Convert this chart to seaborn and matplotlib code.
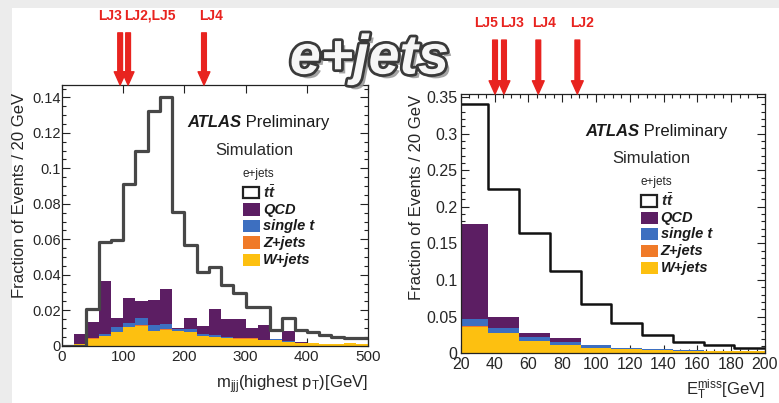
import numpy as np
import pandas as pd
import matplotlib
matplotlib.use("Agg")
import matplotlib.pyplot as plt
import seaborn as sns
from matplotlib.patches import Rectangle
from matplotlib.ticker import MultipleLocator, FuncFormatter
import matplotlib.patheffects as pe

# ---------------- m_jjj (highest pT), 20 GeV bins from 0 to 500 ----------------
mjjj_edges = list(range(0, 501, 20))
mjjj_ttbar = [0.0, 0.0, 0.0205, 0.0587, 0.0596, 0.0911, 0.1100, 0.1325, 0.1403, 0.0753,
              0.0570, 0.0418, 0.0443, 0.0340, 0.0296, 0.0220, 0.0220, 0.0089, 0.0155, 0.0089,
              0.0079, 0.0060, 0.0051, 0.0042, 0.0046]
mjjj_wjets = [0.0, 0.0010, 0.0040, 0.0053, 0.0077, 0.0103, 0.0113, 0.0081, 0.0090, 0.0081,
              0.0078, 0.0053, 0.0048, 0.0044, 0.0040, 0.0040, 0.0030, 0.0030, 0.0020, 0.0015,
              0.0015, 0.0010, 0.0010, 0.0015, 0.0010]
mjjj_zjets = [0.0, 0.0, 0.0002, 0.0002, 0.0002, 0.0004, 0.0004, 0.0002, 0.0002, 0.0002,
              0.0002, 0.0002, 0.0002, 0.0001, 0.0001, 0.0001, 0.0, 0.0, 0.0, 0.0,
              0.0, 0.0, 0.0, 0.0, 0.0]
mjjj_singlet = [0.0, 0.0, 0.0, 0.0011, 0.0025, 0.0023, 0.0038, 0.0034, 0.0031, 0.0009,
                0.0016, 0.0009, 0.0008, 0.0005, 0.0005, 0.0004, 0.0004, 0.0005, 0.0004, 0.0003,
                0.0002, 0.0002, 0.0002, 0.0002, 0.0002]
mjjj_qcd = [0.0, 0.0054, 0.0094, 0.0301, 0.0051, 0.0141, 0.0097, 0.0141, 0.0195, 0.0010,
            0.0059, 0.0049, 0.0147, 0.0099, 0.0103, 0.0057, 0.0083, 0.0, 0.0059, 0.0003,
            0.0, 0.0, 0.0, 0.0, 0.0]

# ---------------- missing ET, 11 bins over 0-200 GeV ----------------
met_edges = [float(v) for v in np.linspace(0, 200, 12)[1:]]
met_ttbar = [0.340, 0.2237, 0.1637, 0.1127, 0.0673, 0.0415, 0.0245, 0.0150, 0.0110, 0.0068]
met_wjets = [0.0355, 0.0273, 0.0168, 0.0113, 0.0068, 0.0055, 0.0045, 0.0035, 0.0030, 0.0028]
met_zjets = [0.0020, 0.0005, 0.0004, 0.0003, 0.0002, 0.0001, 0.0001, 0.0001, 0.0001, 0.0001]
met_singlet = [0.0089, 0.0072, 0.0055, 0.0034, 0.0043, 0.0020, 0.0010, 0.0008, 0.0006, 0.0004]
met_qcd = [0.1300, 0.0141, 0.0054, 0.0054, 0.0, 0.0, 0.0, 0.0, 0.0, 0.0]

# Selection points of the benchmark models (label, x)
mjjj_markers = [("LJ3", 95.0), ("LJ2,LJ5", 108.0), ("LJ4", 232.0)]
met_markers = [("LJ5", 40.3), ("LJ3", 45.6), ("LJ4", 65.9), ("LJ2", 89.0)]

samples = ["QCD", "single t", "Z+jets", "W+jets"]
colors = {"QCD": "#5c1e63", "single t": "#3d6fc0", "Z+jets": "#f07a28", "W+jets": "#fdc010"}
RED = "#e8231f"

sns.set_style("ticks")
plt.rcParams["font.family"] = ["Liberation Sans", "DejaVu Sans"]
plt.rcParams["mathtext.fontset"] = "custom"
plt.rcParams["mathtext.rm"] = "Liberation Sans"
plt.rcParams["mathtext.it"] = "Liberation Sans:italic:bold"

W, H = 779, 403
fig = plt.figure(figsize=(W / 100, H / 100), dpi=100)
fig.patch.set_facecolor("#ececec")
fig.patches.append(Rectangle((12 / W, 0), 1, 1 - 8 / H, transform=fig.transFigure,
                             facecolor="white", edgecolor="none", zorder=-10))


def px_axes(x0, x1, ytop, ybot):
    return fig.add_axes([x0 / W, 1 - ybot / H, (x1 - x0) / W, (ybot - ytop) / H])


def draw_panel(ax, edges, ttbar, comps, tt_color, tt_lw):
    centers = [(a + b) / 2 for a, b in zip(edges[:-1], edges[1:])]
    rows = []
    for name in samples:
        for c, v in zip(centers, comps[name]):
            rows.append({"x": c, "w": v, "sample": name})
    df = pd.DataFrame(rows)
    sns.histplot(data=df, x="x", weights="w", hue="sample", hue_order=samples,
                 bins=edges, multiple="stack", element="step", fill=True,
                 palette=colors, alpha=1, linewidth=0, legend=False, ax=ax)
    tt = pd.DataFrame({"x": centers, "w": ttbar})
    sns.histplot(data=tt, x="x", weights="w", bins=edges, element="step", fill=False,
                 color=tt_color, linewidth=tt_lw, ax=ax)


def decorate(ax, xlabel, ylabel_pos, xlabel_y, xsize, ysize, ypad):
    ax.set_ylabel("Fraction of Events / 20 GeV", loc="top", fontsize=12)
    ax.yaxis.set_label_coords(*ylabel_pos)
    ax.set_xlabel(xlabel, loc="right", fontsize=12)
    ax.xaxis.set_label_coords(1.0, xlabel_y)
    ax.tick_params(which="both", direction="in", top=True, right=True,
                   width=0.8, color="#222222")
    ax.tick_params(which="major", length=6)
    ax.tick_params(which="minor", length=3)
    ax.tick_params(axis="y", pad=ypad, labelsize=ysize)
    ax.tick_params(axis="x", pad=3, labelsize=xsize)
    ax.yaxis.set_major_formatter(FuncFormatter(lambda v, p: "0" if v == 0 else f"{v:g}"))
    for s in ax.spines.values():
        s.set_linewidth(0.9)
        s.set_color("#222222")

    tr = ax.transAxes
    t = ax.text(0.408, 0.855, "ATLAS", transform=tr, fontsize=12, fontweight="bold",
                fontstyle="italic", va="center", ha="left", color="#1a1a1a")
    ax.annotate(" Preliminary", xy=(1, 0), xycoords=t, va="bottom", ha="left",
                fontsize=12, color="#1a1a1a")
    ax.text(0.627, 0.75, "Simulation", transform=tr, fontsize=12, ha="center",
            va="center", color="#2a2a2a")
    ax.text(0.59, 0.66, "e+jets", transform=tr, fontsize=8.5, ha="left", va="center")

    entries = [("$t\\bar{t}$", None)] + [(s, colors[s]) for s in samples]
    ys = [0.588, 0.522, 0.460, 0.395, 0.328]
    for (label, col), y in zip(entries, ys):
        if col is None:
            ax.add_patch(Rectangle((0.591, y - 0.022), 0.053, 0.044, transform=tr,
                                   facecolor="white", edgecolor="#222222", lw=1.6,
                                   clip_on=False))
            ax.text(0.657, y, label, transform=tr, fontsize=11, va="center", ha="left")
        else:
            ax.add_patch(Rectangle((0.591, y - 0.024), 0.056, 0.048, transform=tr,
                                   facecolor=col, edgecolor="none", clip_on=False))
            ax.text(0.657, y, label, transform=tr, fontsize=10.5, fontweight="bold",
                    fontstyle="italic", va="center", ha="left", color="#1a1a1a")


def arrows(ax, markers, layout, tail, label_y):
    for (label, xv), (ha, dx) in zip(markers, layout):
        ax.annotate("", xy=(xv, 1.0), xycoords=("data", "axes fraction"),
                    xytext=(xv, tail), textcoords=("data", "axes fraction"),
                    arrowprops=dict(width=3.4, headwidth=8.5, headlength=9.5,
                                    color=RED, shrink=0), annotation_clip=False)
        ax.annotate(label, xy=(xv, label_y), xycoords=("data", "figure fraction"),
                    xytext=(dx, 0), textcoords="offset points", ha=ha, va="center",
                    color=RED, fontsize=10, fontweight="bold", annotation_clip=False)


# ---- left panel ----
axL = px_axes(62, 368, 85, 345.7)
draw_panel(axL, mjjj_edges, mjjj_ttbar,
           {"QCD": mjjj_qcd, "single t": mjjj_singlet, "Z+jets": mjjj_zjets,
            "W+jets": mjjj_wjets}, "#474747", 2.3)
axL.set_xlim(0, 500)
axL.set_ylim(0, 0.147)
axL.xaxis.set_major_locator(MultipleLocator(100))
axL.yaxis.set_major_locator(MultipleLocator(0.02))
axL.yaxis.set_minor_locator(MultipleLocator(0.005))
decorate(axL, r"m$_{\rm jjj}$(highest p$_{\rm T}$)[GeV]", (-0.115, 0.97), -0.105,
         11, 10.5, 1.0)
arrows(axL, mjjj_markers, [("right", 1.5), ("left", -3), ("left", -3.5)], 1.2, 0.961)

# ---- right panel ----
axR = px_axes(460.7, 765, 94, 353.3)
draw_panel(axR, met_edges, met_ttbar,
           {"QCD": met_qcd, "single t": met_singlet, "Z+jets": met_zjets,
            "W+jets": met_wjets}, "#111111", 1.8)
axR.set_xlim(20, 200)
axR.set_ylim(0, 0.354)
axR.xaxis.set_major_locator(MultipleLocator(20))
axR.xaxis.set_minor_locator(MultipleLocator(5))
axR.yaxis.set_major_locator(MultipleLocator(0.05))
axR.yaxis.set_minor_locator(MultipleLocator(0.01))
decorate(axR, r"E$_{\rm T}^{\rm miss}$[GeV]", (-0.12, 0.995), -0.095, 11.5, 11.5, 2.5)
arrows(axR, met_markers, [("right", 2.5), ("left", -2.5), ("center", 4), ("center", 3)],
       1.208, 0.944)

# ---- channel title ----
fig.text(0.474, 0.852, "e+jets", fontsize=40, fontweight="bold", fontstyle="italic",
         ha="center", va="center", color="#f6f6f6",
         path_effects=[pe.SimplePatchShadow(offset=(3, -3), shadow_rgbFace="#9a9a9a", alpha=0.9),
                       pe.Stroke(linewidth=4, foreground="#3a3a3a"),
                       pe.Normal()])

fig.savefig("out.png", dpi=100, facecolor=fig.get_facecolor())
